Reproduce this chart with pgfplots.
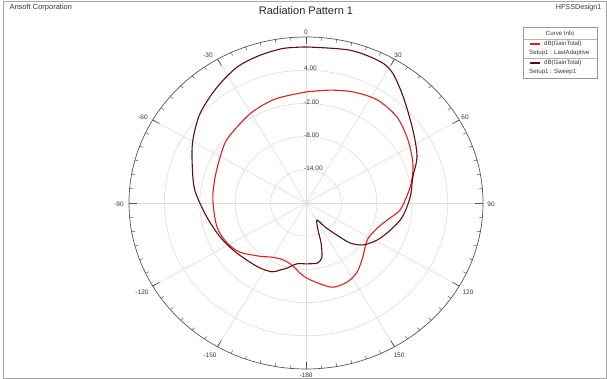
\documentclass[border=0pt]{standalone}
\usepackage{fontspec}
\setmainfont{Liberation Sans}
\usepackage{pgfplots}
\pgfplotsset{compat=1.18}
\usepgfplotslibrary{polar}
\usepackage{pgfplotstable}
\definecolor{cdark}{RGB}{95,14,14}
\definecolor{cred}{RGB}{222,32,32}
\definecolor{gridc}{RGB}{220,220,220}
\definecolor{axc}{RGB}{85,85,85}
\definecolor{txtc}{RGB}{55,55,55}

% theta (deg, clockwise from top), gain (dB)
\pgfplotstableread{
t g
0 8.2
15 8.6
26 8.5
32 7.7
41 5.2
54 2.4
66 0.6
75.5 -1.3
86.5 -2.3
99 -3.5
109 -4.9
119 -6.2
128 -7.7
134 -9.6
138 -12.2
143.4 -14.6
148.8 -16.4
157.4 -14.7
160.6 -12.3
164.5 -9.9
169.4 -9.0
179 -9.0
-172 -8.9
-164.7 -7.8
-160 -7.1
-155.2 -6.3
-146.4 -5.9
-135.8 -5.6
-124.5 -5.0
-112.8 -4.2
-98.6 -3.0
-82.9 -1.0
-69.5 0.6
-59.3 2.3
-47.8 4.2
-35.7 5.8
-25.4 7.2
-16.5 7.8
-7.9 8.2
0 8.2
}\darkdata

\pgfplotstableread{
t g
0.5 0.1
11.3 0.8
21.7 1.6
32.9 2.2
44.8 1.9
56.6 0.7
68.3 -0.5
77 -1.6
84 -2.6
94.5 -4.0
102.6 -5.9
110.6 -7.1
121.1 -7.7
128.5 -7.2
135.3 -6.3
145.3 -4.8
154 -4.1
163.2 -4.1
170.8 -5.2
179.3 -6.4
-175.4 -7.3
-169.1 -8.4
-163.2 -8.9
-156.5 -9.0
-148 -8.5
-140.9 -7.6
-128.4 -5.7
-118.4 -4.8
-106 -4.3
-88 -4.2
-73 -3.9
-58.4 -3.1
-48.4 -2.3
-30.5 -1.3
-15.6 -0.5
0.5 0.1
}\reddata

\begin{document}
\begin{tikzpicture}
% polar grid (center at pixel 306,203)
\begin{scope}[shift={(306pt,176pt)},x=5.9pt,y=5.5333pt]
  \foreach \r in {6,12,18,24} \draw[gridc, line width=0.6pt] (0,0) circle [radius=\r];
  \foreach \a in {0,30,...,330} \draw[gridc, line width=0.6pt] (0,0) -- (\a:30);
  \draw[axc, line width=0.7pt] (0,0) circle [radius=30];
  \foreach \a in {0,5,...,355} \draw[axc, line width=0.5pt] (\a:30) -- (\a:29.4);
  \foreach \a in {0,30,...,330} \draw[axc, line width=0.7pt] (\a:30) -- (\a:28.7);
\end{scope}

\begin{axis}[at={(306pt,176pt)}, anchor=origin, scale only axis,
  width=354pt, height=332pt, xmin=-30, xmax=30, ymin=-30, ymax=30,
  hide axis, clip=false]
\addplot[cred, line width=1.1pt, smooth, tension=0.5, data cs=polar]
  table[x expr={90-\thisrow{t}}, y expr={\thisrow{g}+20}] {\reddata};
\addplot[cdark, line width=1.1pt, smooth, tension=0.5, data cs=polar]
  table[x expr={90-\thisrow{t}}, y expr={\thisrow{g}+20}] {\darkdata};
\end{axis}

% pixel coordinate scope (origin top-left, y down)
\begin{scope}[x=1pt,y=-1pt,shift={(0pt,379pt)}]
  \draw[gray!70, line width=0.8pt] (3,1) rectangle (606.5,378.6);
  \node[font=\fontsize{7.5}{8}\selectfont, text=txtc, anchor=west] at (6,8) {Ansoft Corporation};
  \node[font=\fontsize{7.2}{8}\selectfont, text=txtc, anchor=east] at (605,8) {HFSSDesign1};
  \node[font=\fontsize{11}{12}\selectfont, text=black!85] at (306,11) {Radiation Pattern 1};
  % angle labels
  \begin{scope}[every node/.style={font=\fontsize{6.5}{7}\selectfont, text=txtc, inner sep=0pt}]
    \node at (306,32) {0};
    \node at (398,55) {30};
    \node at (208,55) {-30};
    \node at (465,117) {60};
    \node at (143,117) {-60};
    \node at (491,204) {90};
    \node at (119,204) {-90};
    \node at (468,292) {120};
    \node at (142,292) {-120};
    \node at (399,355) {150};
    \node at (210,355) {-150};
    \node at (306,375) {-180};
    \node[anchor=west] at (304,68.5) {4.00};
    \node[anchor=west] at (304,102) {-2.00};
    \node[anchor=west] at (304,135) {-8.00};
    \node[anchor=west] at (304,168) {-14.00};
  \end{scope}
  % legend box
  \draw[gray!80, line width=0.5pt, fill=white] (523,27) rectangle (597,78);
  \draw[gray!60, line width=0.4pt] (523,39) -- (597,39);
  \draw[gray!60, line width=0.4pt] (523,58) -- (597,58);
  \begin{scope}[every node/.style={font=\fontsize{6.1}{7}\selectfont, text=txtc, inner sep=0pt}]
    \node at (560,33.5) {Curve Info};
    \draw[cred, line width=1.1pt] (530,44) -- (540,44);
    \node[anchor=west] at (544,44) {dB(GainTotal)};
    \node[anchor=west] at (529,53) {Setup1 : LastAdaptive};
    \draw[cdark, line width=1.1pt] (530,63) -- (540,63);
    \node[anchor=west] at (544,63) {dB(GainTotal)};
    \node[anchor=west] at (529,72) {Setup1 : Sweep1};
  \end{scope}
\end{scope}
\pgfresetboundingbox
\path (0,0) rectangle (607pt,379pt);
\end{tikzpicture}
\end{document}
